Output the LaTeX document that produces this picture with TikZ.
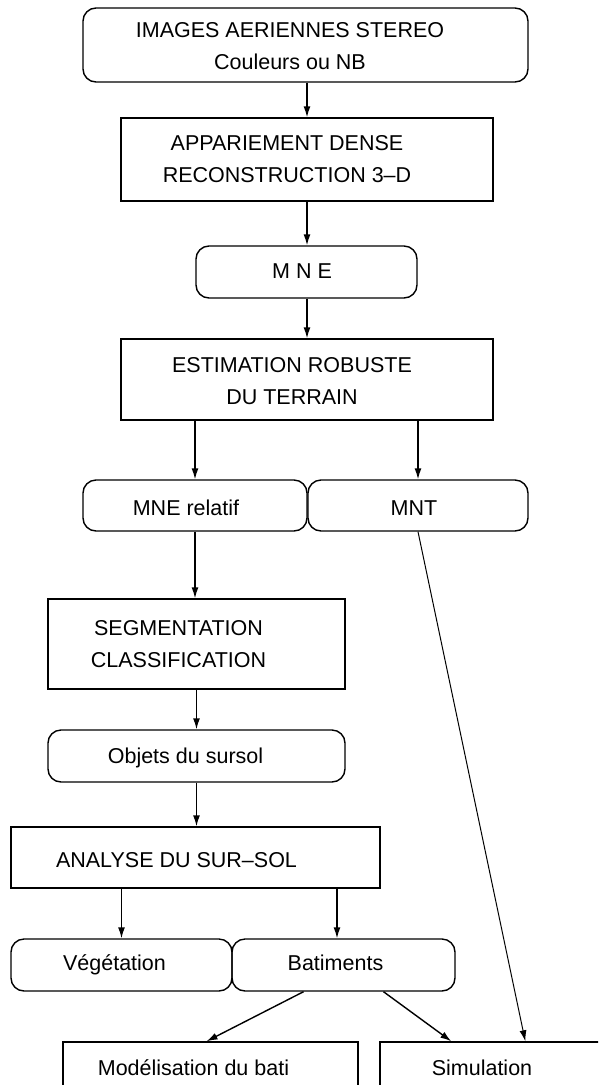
\documentclass[tikz,border=0pt]{standalone}
\usepackage{fontspec}
\setmainfont{Liberation Sans}
\usetikzlibrary{arrows.meta}

\begin{document}
\begin{tikzpicture}[x=1pt, y=-1pt, line width=1.4pt,
    box/.style = {draw},
    round/.style = {draw, rounded corners=13pt},
    txt/.style = {font=\fontsize{21.5}{32}\selectfont, align=center, inner sep=0pt},
    arr/.style = {-{Latex[length=11pt, width=7pt]}, line width=1.4pt}]
    \useasboundingbox (0,0) rectangle (598,1085);
    \clip (0,0) rectangle (598,1085);

    % boxes
    \node[round, minimum width=445, minimum height=74] (img) at (305.5,45) {};
    \node[box, minimum width=372, minimum height=83] (app) at (307,159.5) {};
    \node[round, minimum width=221, minimum height=52] (mne) at (306.5,272) {};
    \node[box, minimum width=372, minimum height=81] (est) at (307,379.5) {};
    \node[round, minimum width=224, minimum height=51] (mner) at (195,505.5) {};
    \node[round, minimum width=220, minimum height=51] (mnt) at (418,505.5) {};
    \node[box, minimum width=297, minimum height=90] (seg) at (196.5,644) {};
    \node[round, minimum width=297, minimum height=52] (obj) at (196.5,756) {};
    \node[box, minimum width=369, minimum height=61] (ana) at (195.5,857.5) {};
    \node[round, minimum width=221, minimum height=52] (veg) at (121.5,965) {};
    \node[round, minimum width=223, minimum height=52] (bat) at (343.5,965) {};
    \node[box, minimum width=295, minimum height=100] (mod) at (210.5,1092) {};
    \node[box, minimum width=260, minimum height=100] (sim) at (510,1092) {};

    % texts
    \node[txt] (img-t) at (290,46.5) {IMAGES AERIENNES STEREO\\Couleurs ou NB};
    \node[txt] (app-t) at (287,159.5) {APPARIEMENT DENSE\\RECONSTRUCTION 3–D};
    \node[txt] (mne-t) at (302,271) {M N E};
    \node[txt] (est-t) at (292,381.5) {ESTIMATION ROBUSTE\\DU TERRAIN};
    \node[txt] (mner-t) at (186,508) {MNE relatif};
    \node[txt] (mnt-t) at (414,508) {MNT};
    \node[txt] (seg-t) at (178.5,644) {SEGMENTATION\\CLASSIFICATION};
    \node[txt] (obj-t) at (185.5,758) {Objets du sursol};
    \node[txt] (ana-t) at (176.5,860) {ANALYSE DU SUR–SOL};
    \node[txt] (veg-t) at (114.5,965) {Végétation};
    \node[txt] (bat-t) at (335.5,963) {Batiments};
    \node[txt] (mod-t) at (193.5,1068) {Modélisation du bati};
    \node[txt] (sim-t) at (482,1068) {Simulation};

    % connections
    \draw[arr] (img.south -| app.north) -- (app.north);
    \draw[arr] (app.south) -- (app.south |- mne.north);
    \draw[arr] (mne.south -| est.north) -- (est.north);
    \draw[arr] (est.south -| mner.north) -- (mner.north);
    \draw[arr] (est.south -| mnt.north) -- (mnt.north);
    \draw[arr] (mner.south) -- (mner.south |- seg.north);
    \draw[arr] (seg.south) -- (obj.north);
    \draw[arr] (obj.south) -- (obj.south |- ana.north);
    \draw[arr] (ana.south -| veg.north) -- (veg.north);
    \draw[arr] ([xshift=-6.5]ana.south -| bat.north) -- ([xshift=-6.5]bat.north);
    \draw[arr] ([xshift=-40]bat.south) -- ([xshift=-4]mod.north);
    \draw[arr] ([xshift=40]bat.south) -- ([xshift=72]sim.north west);
    \draw[arr, line width=1pt] (mnt.south) -- ([xshift=146]sim.north west);
\end{tikzpicture}
\end{document}
